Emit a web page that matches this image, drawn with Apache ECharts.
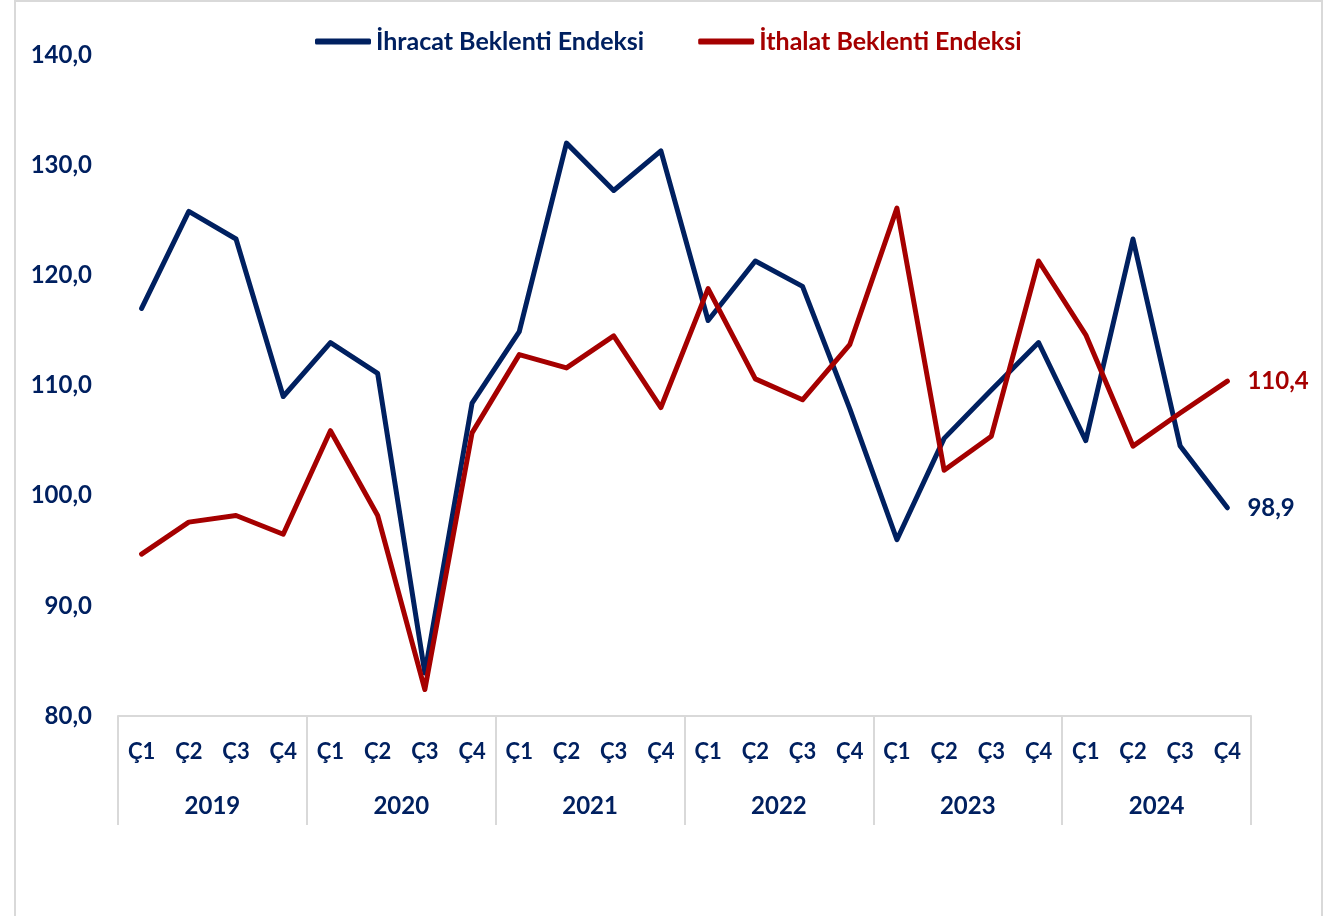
<!DOCTYPE html>
<html lang="tr">
<head>
<meta charset="utf-8">
<title>İhracat ve İthalat Beklenti Endeksleri</title>
<script src="https://cdn.jsdelivr.net/npm/echarts@6/dist/echarts.min.js"></script>
<style>
  html, body { margin: 0; padding: 0; background: #ffffff; }
  #chart { width: 1335px; height: 916px; }
</style>
</head>
<body>
<div id="chart"></div>
<script>
// Quarterly categories grouped by year
const years = ['2019', '2020', '2021', '2022', '2023', '2024'];
const quarters = ['Ç1', 'Ç2', 'Ç3', 'Ç4'];
const quarterLabels = years.flatMap(() => quarters);

// Index values, one per quarter
const ihracat = [
  117.0, 125.8, 123.3, 109.0,
  113.9, 111.1, 83.9, 108.4,
  114.9, 132.0, 127.7, 131.3,
  115.9, 121.3, 119.0, 107.9,
  96.0, 105.2, 109.6, 113.9,
  105.0, 123.3, 104.5, 98.9
];
const ithalat = [
  94.7, 97.6, 98.2, 96.5,
  105.9, 98.2, 82.4, 105.7,
  112.8, 111.6, 114.5, 108.0,
  118.8, 110.6, 108.7, 113.7,
  126.1, 102.3, 105.4, 121.3,
  114.6, 104.5, 107.5, 110.4
];

// Value axis ticks
const yMin = 80, yMax = 140, yStep = 10;

const NAVY = '#002060';
const RED = '#A50000';
const GRID_GREY = '#d9d9d9';
const FONT = 'Lato';

const fmt = v => Number(v).toFixed(1).replace('.', ',');

const chart = echarts.init(document.getElementById('chart'), null, { renderer: 'canvas' });

chart.setOption({
  backgroundColor: '#ffffff',
  animation: false,
  textStyle: { fontFamily: FONT },
  graphic: [{
    type: 'rect',
    shape: { x: 15, y: 1, width: 1307, height: 940 },
    style: { fill: 'none', stroke: GRID_GREY, lineWidth: 2 },
    silent: true
  }],
  legend: {
    left: 310,
    top: 24,
    itemWidth: 56,
    itemHeight: 6,
    itemGap: 54,
    icon: 'roundRect',
    textStyle: { fontFamily: FONT, fontWeight: 'bold', fontSize: 25 },
    data: [
      { name: 'İhracat Beklenti Endeksi', textStyle: { color: NAVY } },
      { name: 'İthalat Beklenti Endeksi', textStyle: { color: RED } }
    ]
  },
  grid: { left: 118, right: 84, top: 55, bottom: 200, containLabel: false },
  xAxis: [
    {
      type: 'category',
      data: quarterLabels,
      boundaryGap: true,
      position: 'bottom',
      axisLine: { show: true, lineStyle: { color: GRID_GREY, width: 2 } },
      axisTick: { show: false },
      axisLabel: {
        interval: 0,
        margin: 25,
        color: NAVY,
        fontFamily: FONT,
        fontWeight: 'bold',
        fontSize: 22
      },
      splitLine: { show: false }
    },
    {
      type: 'category',
      data: years,
      boundaryGap: true,
      position: 'bottom',
      axisLine: { show: false },
      axisTick: {
        show: true,
        interval: 0,
        length: 109,
        lineStyle: { color: GRID_GREY, width: 2 }
      },
      axisLabel: {
        interval: 0,
        margin: 78,
        color: NAVY,
        fontFamily: FONT,
        fontWeight: 'bold',
        fontSize: 24
      },
      splitLine: { show: false }
    }
  ],
  yAxis: {
    type: 'value',
    min: yMin,
    max: yMax,
    interval: yStep,
    axisLine: { show: false },
    axisTick: { show: false },
    splitLine: { show: false },
    axisLabel: {
      margin: 26,
      color: NAVY,
      fontFamily: FONT,
      fontWeight: 'bold',
      fontSize: 24,
      formatter: v => fmt(v)
    }
  },
  series: [
    {
      name: 'İhracat Beklenti Endeksi',
      type: 'line',
      xAxisIndex: 0,
      data: ihracat,
      symbol: 'none',
      color: NAVY,
      lineStyle: { color: NAVY, width: 5, cap: 'round', join: 'round' },
      endLabel: {
        show: true,
        distance: 20,
        color: NAVY,
        fontFamily: FONT,
        fontWeight: 'bold',
        fontSize: 24,
        formatter: p => fmt(p.value)
      },
      z: 3
    },
    {
      name: 'İthalat Beklenti Endeksi',
      type: 'line',
      xAxisIndex: 0,
      data: ithalat,
      symbol: 'none',
      color: RED,
      lineStyle: { color: RED, width: 5, cap: 'round', join: 'round' },
      endLabel: {
        show: true,
        distance: 20,
        color: RED,
        fontFamily: FONT,
        fontWeight: 'bold',
        fontSize: 24,
        formatter: p => fmt(p.value)
      },
      z: 4
    }
  ]
});
</script>
</body>
</html>
